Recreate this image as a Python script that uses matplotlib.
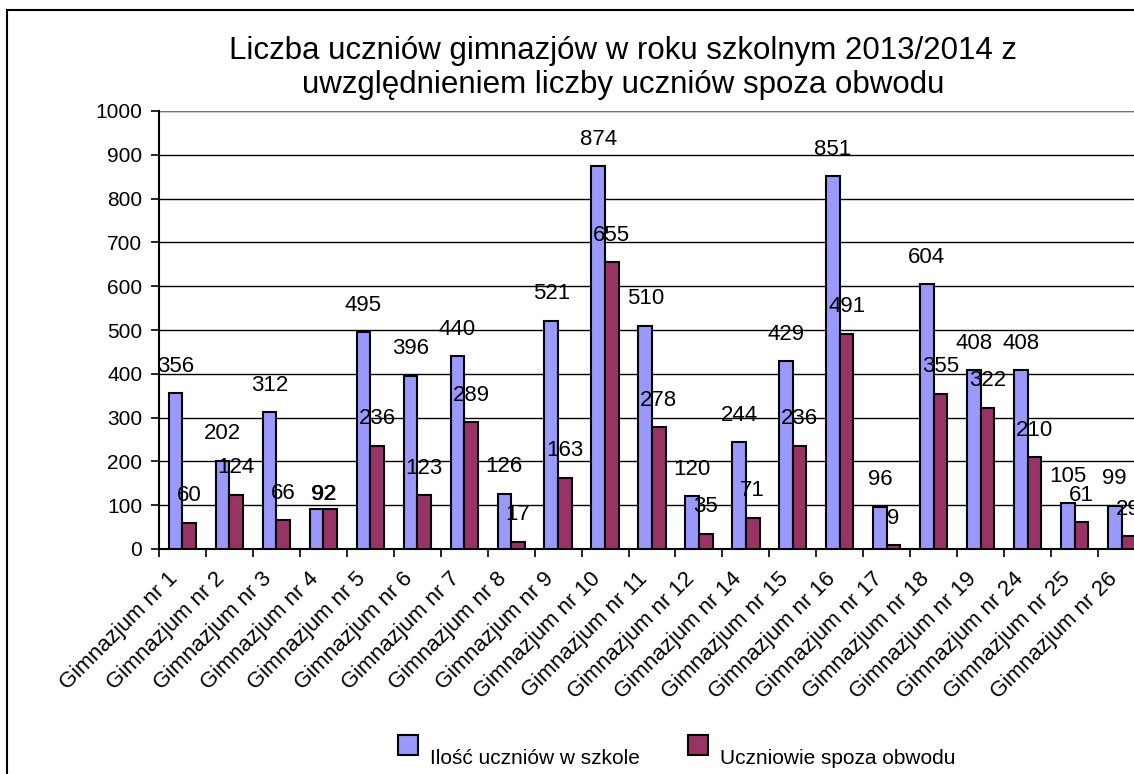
import matplotlib
matplotlib.use("Agg")
import matplotlib.pyplot as plt
from matplotlib.patches import Rectangle
import numpy as np

plt.rcParams["font.family"] = ["Liberation Sans", "DejaVu Sans"]

categories = [
    "Gimnazjum nr 1", "Gimnazjum nr 2", "Gimnazjum nr 3", "Gimnazjum nr 4",
    "Gimnazjum nr 5", "Gimnazjum nr 6", "Gimnazjum nr 7", "Gimnazjum nr 8",
    "Gimnazjum nr 9", "Gimnazjum nr 10", "Gimnazjum nr 11", "Gimnazjum nr 12",
    "Gimnazjum nr 14", "Gimnazjum nr 15", "Gimnazjum nr 16", "Gimnazjum nr 17",
    "Gimnazjum nr 18", "Gimnazjum nr 19", "Gimnazjum nr 24", "Gimnazjum nr 25",
    "Gimnazjum nr 26",
]
uczniowie_w_szkole = [356, 202, 312, 92, 495, 396, 440, 126, 521, 874, 510,
                      120, 244, 429, 851, 96, 604, 408, 408, 105, 99]
uczniowie_spoza = [60, 124, 66, 92, 236, 123, 289, 17, 163, 655, 278,
                   35, 71, 236, 491, 9, 355, 322, 210, 61, 29]

series_labels = ["Ilość uczniów w szkole", "Uczniowie spoza obwodu"]
colors = ["#9999FF", "#993366"]
title = "Liczba uczniów gimnazjów w roku szkolnym 2013/2014 z\nuwzględnieniem liczby uczniów spoza obwodu"

W, H = 1134, 774
fig = plt.figure(figsize=(W / 100, H / 100), dpi=100)


def px(x0, y0, x1, y1):
    # pixel box (top-left origin) -> figure fraction rect
    return [x0 / W, 1 - y1 / H, (x1 - x0) / W, (y1 - y0) / H]


# chart area border (clipped at right and bottom like the reference)
fig.patches.append(Rectangle((7 / W, -0.05), 1.2, 1 - 10 / H + 0.05,
                             transform=fig.transFigure, fill=False,
                             edgecolor="black", linewidth=1.5))

fig.text(623 / W, 1 - 68 / H, title, ha="center", va="center",
         fontsize=22.5, linespacing=1.15)

ax = fig.add_axes(px(159, 111, 1145, 549))
x = np.arange(len(categories))
w = 0.29
bars1 = ax.bar(x - w / 2, uczniowie_w_szkole, w, color=colors[0],
               edgecolor="black", linewidth=1.5, zorder=3)
bars2 = ax.bar(x + w / 2, uczniowie_spoza, w, color=colors[1],
               edgecolor="black", linewidth=1.5, zorder=3)

# value labels; when both values are equal Excel stacks them over the pair
for i, (a, b) in enumerate(zip(uczniowie_w_szkole, uczniowie_spoza)):
    if a == b:
        for dx in (-0.5, 0.5):
            ax.annotate(str(a), (x[i], a), xytext=(dx, 14),
                        textcoords="offset pixels", ha="center", va="center",
                        fontsize=16, zorder=5)
        continue
    for bar, v in ((bars1[i], a), (bars2[i], b)):
        ax.annotate(str(v), (bar.get_x() + bar.get_width() / 2, v),
                    xytext=(0, 27), textcoords="offset pixels",
                    ha="center", va="center", fontsize=16, zorder=5,
                    annotation_clip=False)

ax.set_xlim(-0.5, len(categories) - 0.5)
ax.set_ylim(0, 1000)
ax.set_yticks(np.arange(0, 1001, 100))
ax.yaxis.grid(True, color="black", linewidth=1.0, zorder=0)
ax.set_axisbelow(True)
for s in ["top", "right"]:
    ax.spines[s].set_visible(False)
ax.spines["left"].set_linewidth(1.5)
ax.spines["bottom"].set_linewidth(1.5)
ax.axhline(1000, color="#888888", linewidth=1.2, zorder=1)

ax.set_xticks(x)
ax.set_xticklabels(categories, rotation=45, ha="right", fontsize=16)
ax.tick_params(axis="x", length=0, pad=14)
ax.set_xticks(np.arange(-0.5, len(categories), 1), minor=True)
ax.tick_params(axis="x", which="minor", length=6, width=1.2, direction="out")
ax.tick_params(axis="y", length=6, width=1.2, labelsize=15, pad=6)

# legend drawn in pixel positions
legend_items = [(398, series_labels[0], colors[0]), (688, series_labels[1], colors[1])]
for lx, lab, col in legend_items:
    fig.patches.append(Rectangle((lx / W, 1 - 755 / H), 20 / W, 20 / H,
                                 transform=fig.transFigure, facecolor=col,
                                 edgecolor="black", linewidth=1.5))
    fig.text((lx + 32) / W, 1 - 758 / H, lab, ha="left", va="center", fontsize=15)

fig.savefig("out.png", dpi=100)
